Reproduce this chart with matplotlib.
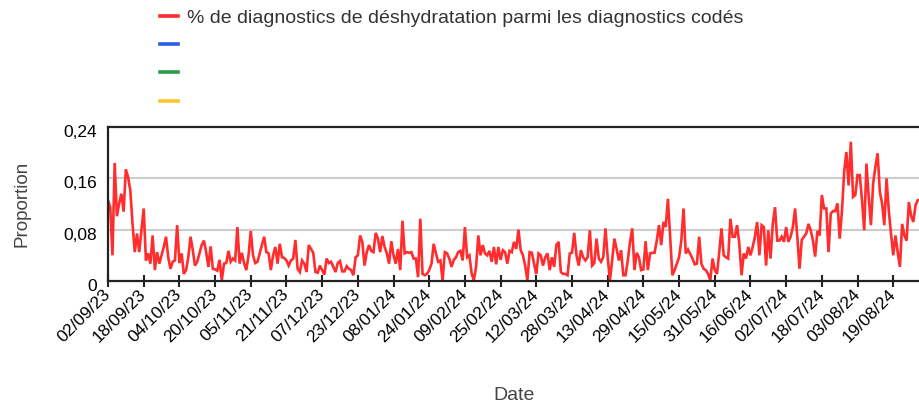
import numpy as np
import pandas as pd
import matplotlib
matplotlib.use("Agg")
import matplotlib.pyplot as plt
import matplotlib.transforms as mtrans
from matplotlib.lines import Line2D

plt.rcParams['font.family'] = ['Liberation Sans', 'DejaVu Sans']

# daily share of dehydration diagnostics
sep_nov23 = [0.126, 0.115, 0.040, 0.184, 0.101, 0.121, 0.136, 0.108, 0.174, 0.162,
             0.141, 0.089, 0.045, 0.074, 0.045, 0.079, 0.113, 0.032, 0.043, 0.027,
             0.071, 0.017, 0.045, 0.027, 0.040, 0.053, 0.069, 0.037, 0.019, 0.030,
             0.032, 0.087, 0.028, 0.043, 0.011, 0.017, 0.037, 0.069, 0.048, 0.024,
             0.030, 0.043, 0.056, 0.063, 0.045, 0.022, 0.054, 0.019, 0.018, 0.016,
             0.033, 0.001, 0.027, 0.028, 0.047, 0.030, 0.035, 0.032, 0.084, 0.027,
             0.044, 0.028, 0.017, 0.040, 0.078, 0.040, 0.028, 0.030, 0.043, 0.056,
             0.069]
nov23_jan24 = [0.045, 0.043, 0.017, 0.040, 0.053, 0.027, 0.058, 0.037, 0.036, 0.032,
               0.024, 0.032, 0.035, 0.064, 0.019, 0.014, 0.032, 0.027, 0.014, 0.056,
               0.050, 0.044, 0.014, 0.013, 0.024, 0.017, 0.010, 0.035, 0.028, 0.030,
               0.022, 0.014, 0.028, 0.031, 0.015, 0.015, 0.023, 0.019, 0.017, 0.009,
               0.037, 0.040, 0.071, 0.061, 0.024, 0.045, 0.056, 0.047, 0.045, 0.075,
               0.066, 0.045, 0.070, 0.053, 0.043, 0.027, 0.062, 0.040, 0.027, 0.050,
               0.017, 0.094, 0.043, 0.045, 0.044, 0.045, 0.035, 0.035, 0.006, 0.097,
               0.011, 0.009]
jan_apr24 = [0.011, 0.017, 0.027, 0.058, 0.043, 0.030, 0.032, 0.001, 0.045, 0.043,
             0.035, 0.022, 0.033, 0.037, 0.045, 0.047, 0.032, 0.084, 0.037, 0.040,
             0.012, 0.001, 0.022, 0.071, 0.040, 0.056, 0.043, 0.040, 0.047, 0.030,
             0.053, 0.026, 0.053, 0.033, 0.048, 0.045, 0.027, 0.047, 0.045, 0.061,
             0.050, 0.080, 0.048, 0.040, 0.024, 0.001, 0.045, 0.044, 0.027, 0.011,
             0.043, 0.040, 0.024, 0.037, 0.043, 0.017, 0.037, 0.022, 0.056, 0.061,
             0.014, 0.011, 0.011, 0.009, 0.043, 0.044, 0.075, 0.040, 0.024, 0.048,
             0.037, 0.032, 0.037]
apr_jun24 = [0.079, 0.024, 0.028, 0.066, 0.035, 0.030, 0.037, 0.082, 0.037, 0.001,
             0.032, 0.066, 0.050, 0.032, 0.048, 0.009, 0.009, 0.032, 0.061, 0.082,
             0.017, 0.044, 0.037, 0.017, 0.018, 0.062, 0.017, 0.043, 0.044, 0.044,
             0.063, 0.087, 0.056, 0.092, 0.084, 0.128, 0.069, 0.009, 0.017, 0.027,
             0.037, 0.063, 0.113, 0.043, 0.049, 0.042, 0.035, 0.026, 0.027, 0.069,
             0.027, 0.019, 0.017, 0.011, 0.001, 0.035, 0.017, 0.011, 0.045, 0.082,
             0.040, 0.037, 0.035, 0.097, 0.069, 0.069, 0.087, 0.058, 0.009, 0.043,
             0.035, 0.053, 0.040]
jun_aug24 = [0.053, 0.069, 0.092, 0.040, 0.087, 0.084, 0.024, 0.079, 0.035, 0.089,
             0.115, 0.063, 0.063, 0.069, 0.061, 0.084, 0.061, 0.069, 0.084, 0.113,
             0.069, 0.019, 0.064, 0.069, 0.074, 0.089, 0.079, 0.063, 0.038, 0.078,
             0.071, 0.134, 0.113, 0.113, 0.045, 0.105, 0.109, 0.109, 0.121, 0.066,
             0.108, 0.170, 0.201, 0.149, 0.217, 0.131, 0.134, 0.165, 0.165, 0.126,
             0.079, 0.183, 0.131, 0.087, 0.152, 0.178, 0.199, 0.139, 0.121, 0.087,
             0.160, 0.110, 0.074, 0.040, 0.071, 0.045, 0.022, 0.089, 0.071, 0.063,
             0.123, 0.102, 0.092, 0.118, 0.126]

values = sep_nov23 + nov23_jan24 + jan_apr24 + apr_jun24 + jun_aug24
dates = pd.date_range("2023-09-02", periods=len(values), freq="D")
yticks = [0, 0.08, 0.16, 0.24]
ytick_labels = ["0", "0,08", "0,16", "0,24"]
series_label = "% de diagnostics de déshydratation parmi les diagnostics codés"
legend_colors = ["#ff2d2d", "#2a5ee8", "#2e9a4c", "#fbc62c"]

W, H = 920, 403
fig = plt.figure(figsize=(W / 100, H / 100), dpi=100)
ax = fig.add_axes([108 / W, 122 / H, 812 / W, 154 / H])

ax.plot(dates, values, color="#ff2d2d", lw=1.9, solid_joinstyle="miter")

ax.set_ylim(0, 0.24)
ax.set_xlim(dates[0], dates[0] + pd.Timedelta(days=364))
ax.set_yticks(yticks)
ax.set_yticklabels(ytick_labels, fontsize=12.5)
ax.tick_params(axis="y", length=0, pad=8)
shift = mtrans.ScaledTranslation(0, -4 / 100, fig.dpi_scale_trans)
for lab in ax.get_yticklabels():
    lab.set_transform(lab.get_transform() + shift)
for y in yticks[1:-1]:
    ax.axhline(y, color="#cccccc", lw=1.5, zorder=0)

xt = dates[::16]
ax.set_xticks(xt)
ax.set_xticklabels([d.strftime("%d/%m/%y") for d in xt], rotation=45, ha="right",
                   va="center", rotation_mode="anchor", fontsize=12.5)
ax.tick_params(axis="x", direction="inout", length=8, width=1.5, color="#222222", pad=4)

for s in ("left", "top", "bottom"):
    ax.spines[s].set_linewidth(1.6)
    ax.spines[s].set_color("#222222")
ax.spines["right"].set_visible(False)

ax.set_ylabel("Proportion", fontsize=13.5, color="#444444")
ax.yaxis.set_label_coords(-0.096, 0.5)
ax.set_xlabel("Date", fontsize=14, color="#444444")
ax.xaxis.set_label_coords(0.5, -0.69)

handles = [Line2D([], [], color=c, lw=2.6) for c in legend_colors]
fig.legend(handles, [series_label, "", "", ""], loc="upper left",
           bbox_to_anchor=(160 / W, 1 - 9 / H), frameon=False, fontsize=14,
           handlelength=0.95, handletextpad=0.45, labelspacing=0.55, borderpad=0,
           borderaxespad=0, labelcolor="#333333")

fig.savefig("out.png", dpi=100)
